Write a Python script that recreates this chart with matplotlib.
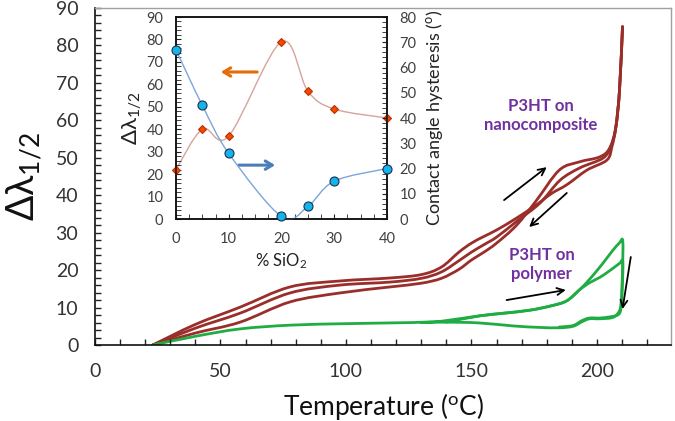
import numpy as np
import matplotlib
matplotlib.use('Agg')
import matplotlib.pyplot as plt
from matplotlib.path import Path
from matplotlib.patches import PathPatch
from matplotlib.ticker import MultipleLocator

plt.rcParams['font.family'] = ['Lato', 'DejaVu Sans']
plt.rcParams['mathtext.fontset'] = 'stix'
plt.rcParams['mathtext.default'] = 'regular'

# main chart: P3HT on nanocomposite (three heating / cooling runs)
comp_a_t = [23, 40, 57.8, 77.7, 97.6, 117.5, 130, 138, 145, 150, 155, 160, 168, 176, 182, 188, 196, 204, 206, 207.5, 209, 210.2]
comp_a = [0, 5.5, 10.1, 15.5, 17.1, 17.9, 18.8, 20.8, 24.8, 27.2, 29, 30.7, 33.9, 37.5, 40.5, 42.8, 46.7, 49.4, 53, 58, 68, 85]
comp_b_t = [23, 40, 57.8, 77.7, 97.6, 117.5, 130, 138, 145, 150, 155, 160, 168, 177.3, 185.3, 193.2, 202.4, 205.5, 207.5, 209, 210.2]
comp_b = [0, 4.5, 8.5, 13.9, 16, 16.8, 17.8, 19.5, 22.5, 24.8, 26.8, 28.8, 33, 37.9, 44, 47.3, 49.9, 53, 58, 68, 85]
comp_c_t = [23, 40, 57.8, 77.7, 97.6, 117.5, 130, 138, 145, 150, 155, 160, 168, 176, 185, 193, 201, 205, 207.5, 209, 210.2]
comp_c = [0, 3.2, 6.1, 11.5, 13.9, 15.5, 16.5, 17.8, 20.2, 22.7, 24.8, 27.2, 32, 38.7, 46.7, 48.9, 50.2, 52.5, 58, 68, 85]

# main chart: P3HT on polymer (two loops)
poly_1_t = [23, 40.6, 57.8, 77.7, 100, 117.5, 135, 145, 153.4, 163, 173.3, 182, 188, 193, 197, 202, 206, 209, 210.3,
            210.2, 209.6, 208.4, 206, 201, 197, 194, 190.5, 185, 177, 166.5, 153, 140, 130]
poly_1 = [0, 2.4, 4.3, 5.3, 5.7, 5.9, 6.2, 7, 7.8, 8.5, 9.3, 10.5, 11.8, 14.7, 17.5, 21.5, 25, 27.3, 27.8,
          20, 11, 8.5, 7.3, 7, 7, 6.2, 5, 4.6, 4.7, 5.1, 5.9, 6.1, 6.0]
poly_2_t = [140, 153.4, 163, 173.3, 182, 188, 193, 197, 201, 205, 209, 210.3, 210.1, 209.5, 208.2, 205, 201, 197, 194, 190.5, 185]
poly_2 = [6.1, 7.8, 8.5, 9.3, 10.5, 11.8, 14.7, 16.6, 18, 19.8, 21.8, 22.3, 15, 9.5, 8, 7.5, 7.2, 7.2, 6.5, 5.2, 4.8]

# inset
sio2 = [0, 5, 10, 20, 25, 30, 40]
inset_dl = [22, 40, 37, 79, 57, 49, 45]
inset_hyst = [67, 45, 26, 1, 5, 15, 20]


def smooth_path(xs, ys):
    pts = np.column_stack([xs, ys]).astype(float)
    n = len(pts)
    verts = [pts[0]]
    codes = [Path.MOVETO]
    for i in range(n - 1):
        p0 = pts[i - 1] if i > 0 else pts[i]
        p1, p2 = pts[i], pts[i + 1]
        p3 = pts[i + 2] if i + 2 < n else pts[i + 1]
        verts += [p1 + (p2 - p0) / 6, p2 - (p3 - p1) / 6, p2]
        codes += [Path.CURVE4] * 3
    return Path(verts, codes)


def draw_curve(ax, xs, ys, color, lw, clip=True):
    ax.add_patch(PathPatch(smooth_path(xs, ys), fill=False, edgecolor=color, lw=lw,
                           capstyle='round', joinstyle='round', clip_on=clip))


fig = plt.figure(figsize=(6.75, 4.21), dpi=100)
ax = fig.add_axes([0.1407, 0.1805, 0.8533, 0.8005])

brown = '#9A2E2A'
green = '#1FAD43'
for t, v in [(comp_a_t, comp_a), (comp_b_t, comp_b), (comp_c_t, comp_c)]:
    draw_curve(ax, t, v, brown, 2.0)
for t, v in [(poly_1_t, poly_1), (poly_2_t, poly_2)]:
    draw_curve(ax, t, v, green, 2.0)

ax.set_xlim(0, 229.5)
ax.set_ylim(0, 90)
ax.set_xticks(range(0, 201, 50))
ax.xaxis.set_minor_locator(MultipleLocator(10))
ax.yaxis.set_major_locator(MultipleLocator(10))
ax.yaxis.set_minor_locator(MultipleLocator(2))
ax.tick_params(which='both', direction='in', length=4, width=1, top=False, right=False)
ax.tick_params(axis='y', labelsize=14, pad=12, colors='#333333')
ax.tick_params(axis='x', labelsize=14, pad=13, colors='#333333')
ax.tick_params(which='both', color='#222222')
for s in ['left', 'bottom']:
    ax.spines[s].set_color('#111111')
    ax.spines[s].set_linewidth(1.2)
for s in ['top', 'right']:
    ax.spines[s].set_color('#A0A0A0')
    ax.spines[s].set_linewidth(1.0)

ax.set_xlabel(r'Temperature ($^{o}$C)', fontsize=19, color='#111111', labelpad=8)
ax.set_ylabel(r'$\Delta\lambda_{\mathregular{1/2}}$', fontsize=27, color='#111111', labelpad=8)

purple = '#7030A0'
ax.text(177.7, 61.3, 'P3HT on\nnanocomposite', color=purple, fontsize=12, fontweight='bold',
        ha='center', va='center', linespacing=1.25)
ax.text(178, 21.6, 'P3HT on\npolymer', color=purple, fontsize=12, fontweight='bold',
        ha='center', va='center', linespacing=1.25)

arrow = dict(arrowstyle='->,head_length=0.5,head_width=0.25', color='black', lw=1.3, shrinkA=0, shrinkB=0)
for start, end in [((163, 38.7), (180, 47.5)), ((188, 40.6), (173, 31.5)),
                   ((164, 12), (187.6, 14.7)), ((213.5, 23.5), (210.2, 9.6))]:
    ax.annotate('', xy=end, xytext=start, arrowprops=arrow)

# inset
ins = fig.add_axes([0.2607, 0.4798, 0.3126, 0.4798])
ins2 = ins.twinx()
draw_curve(ins, sio2, inset_dl, '#D6A39B', 1.0)
draw_curve(ins2, sio2, inset_hyst, '#7AA6DA', 1.0, clip=False)
ins.plot(sio2, inset_dl, linestyle='none', marker='D', ms=4.5, mfc='#F24A00', mec='#B83000', mew=0.8, zorder=5, clip_on=False)
ins2.plot(sio2, inset_hyst, linestyle='none', marker='o', ms=6.5, mfc='#12B4EC', mec='#1F3050', mew=0.8, zorder=5, clip_on=False)

ins.set_xlim(0, 40)
ins.set_ylim(0, 90)
ins2.set_ylim(0, 80)
ins.set_xticks(range(0, 41, 10))
ins.xaxis.set_minor_locator(MultipleLocator(2.5))
ins.yaxis.set_major_locator(MultipleLocator(10))
ins.yaxis.set_minor_locator(MultipleLocator(2))
ins2.yaxis.set_major_locator(MultipleLocator(10))
ins2.yaxis.set_minor_locator(MultipleLocator(2))
ins.tick_params(which='both', direction='in', length=3.5, top=False, right=False)
ins2.tick_params(which='both', direction='in', length=3.5)
ins.tick_params(axis='y', labelsize=10.5, pad=9, colors='#404040')
ins.tick_params(axis='x', labelsize=10.5, pad=9, colors='#404040')
ins2.tick_params(axis='y', labelsize=10.5, pad=9, colors='#404040')
ins.tick_params(which='both', color='#222222')
ins2.tick_params(which='both', color='#222222')
for a in (ins, ins2):
    for s in a.spines.values():
        s.set_color('#111111')
        s.set_linewidth(1.1)

ins.set_xlabel(r'% SiO$_{2}$', fontsize=12, color='#222222', labelpad=4)
ins.set_ylabel(r'$\Delta\lambda_{\mathregular{1/2}}$', fontsize=16, color='#222222', labelpad=2)
ins2.set_ylabel(r'Contact angle hysteresis ($^{o}$)', fontsize=13, color='#222222', labelpad=5)

ins.annotate('', xy=(8.5, 65.5), xytext=(15.4, 65.5),
             arrowprops=dict(arrowstyle='->,head_length=0.5,head_width=0.3', color='#E46C0A', lw=2.2, shrinkA=0, shrinkB=0))
ins.annotate('', xy=(18.8, 24), xytext=(11.9, 24),
             arrowprops=dict(arrowstyle='->,head_length=0.5,head_width=0.3', color='#4A7EBB', lw=2.2, shrinkA=0, shrinkB=0))

fig.savefig('out.png', dpi=100)
